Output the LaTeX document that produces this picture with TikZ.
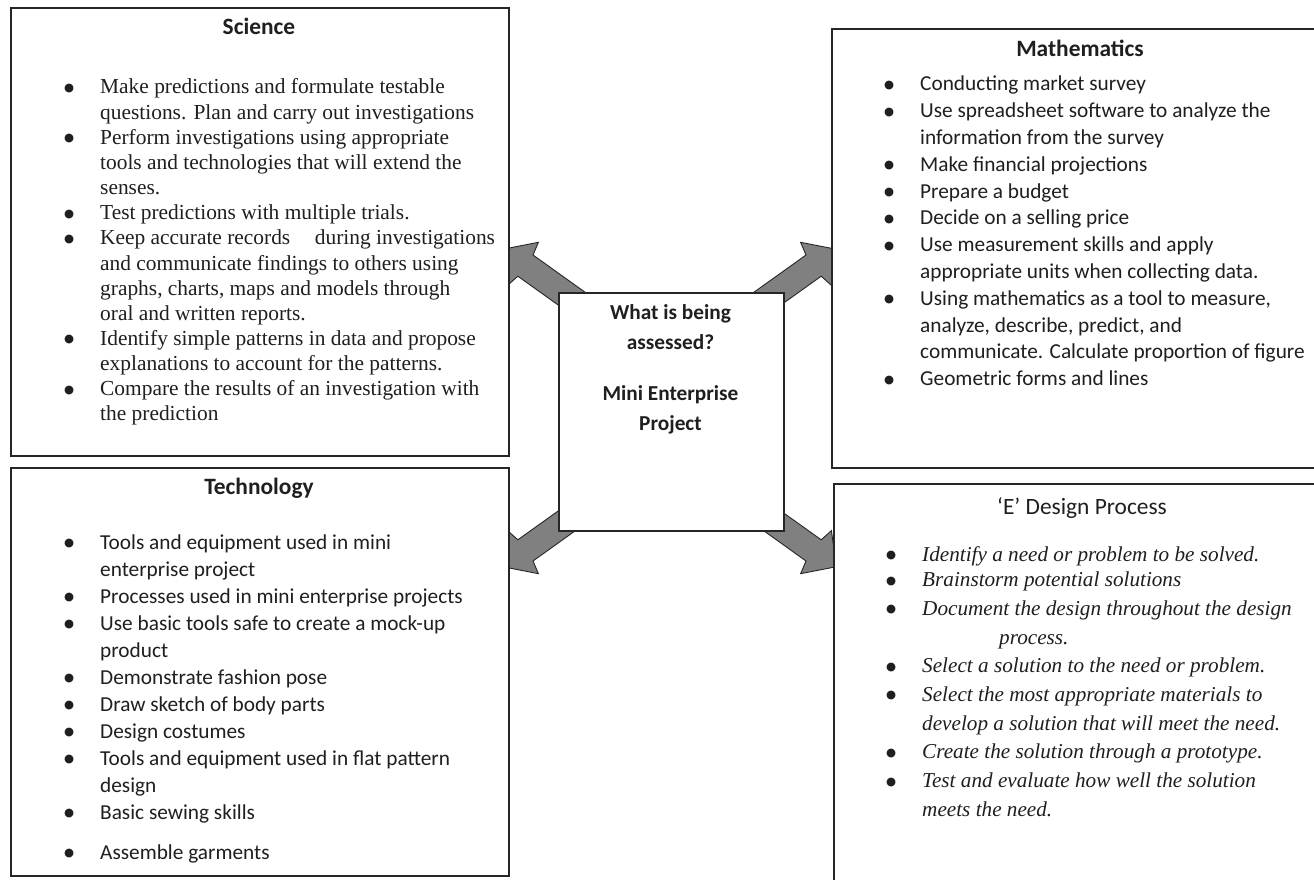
\documentclass[tikz,border=0pt]{standalone}
\usepackage{fontspec}
\setmainfont{Liberation Serif}
\newfontfamily\calib{Carlito}
\newfontfamily\dejavu{DejaVu Sans}
\newcommand\bl{\makebox[36pt][l]{\raisebox{2.6pt}{\dejavu\upshape\mdseries\fontsize{11.5}{11.5}\selectfont ●}}}
\newcommand\nobl{\hspace*{36pt}}
\begin{document}
\begin{tikzpicture}[x=1pt,y=-1pt,
  panel/.style={draw=black!85, line width=1.6pt, fill=white, inner sep=0pt, anchor=north west},
  blockarrow/.style={fill=black!50, draw=black!85, line width=0.9pt, line join=miter},
  heading/.style={anchor=base, inner sep=0pt, text=black!88, font=\calib\bfseries\fontsize{23.4}{28}\selectfont},
  list/.style={anchor=base west, inner sep=0pt, text=black!88},
  serifsize/.style={font=\fontsize{21.4}{25.15}\selectfont},
  sanssize/.style={font=\calib\fontsize{21.3}{#1}\selectfont},
]
\clip (0,0) rectangle (1314,880);
\fill[white] (0,0) rectangle (1314,880);

% block arrows radiating from the central box
\draw[blockarrow] (589.9,295.7) -- (533.0,255.0) -- (538.4,242.3) -- (502.6,249.3) -- (507.6,285.4) -- (517.8,276.2) -- (574.8,316.9) -- cycle;
\draw[blockarrow] (749.1,295.7) -- (806.0,255.0) -- (800.6,242.3) -- (836.4,249.3) -- (831.4,285.4) -- (821.2,276.2) -- (764.2,316.9) -- cycle;
\draw[blockarrow] (589.9,520.3) -- (533.0,561.0) -- (538.4,573.7) -- (502.6,566.7) -- (507.6,530.6) -- (517.8,539.8) -- (574.8,499.1) -- cycle;
\draw[blockarrow] (749.1,520.3) -- (806.0,561.0) -- (800.6,573.7) -- (836.4,566.7) -- (831.4,530.6) -- (821.2,539.8) -- (764.2,499.1) -- cycle;

% panels
\node[panel, minimum width=498pt, minimum height=448pt] (sci) at (10,7) {};
\node[panel, minimum width=498pt, minimum height=408pt] (tech) at (10,467) {};
\node[panel, minimum width=500pt, minimum height=439pt] (math) at (831,28) {};
\node[panel, minimum width=500pt, minimum height=420pt] (edp) at (833,483) {};
\node[panel, minimum width=225pt, minimum height=238pt] (ctr) at (558,292) {};

% headings
\node[heading] (sciTitle) at (259,35) {Science};
\node[heading] (mathTitle) at (1080,57) {Mathematics};
\node[heading] (techTitle) at (259,494) {Technology};
\node[heading, font=\calib\fontsize{23.4}{28}\selectfont] (edpTitle) at (1082,514) {‘E’ Design Process};

% central question
\node[anchor=base, inner sep=0pt, text=black!88, font=\calib\bfseries\fontsize{21.3}{30}\selectfont] (ctrText) at (670.5,319)
  {\begin{tabular}[t]{@{}c@{}}What is being\\assessed?\\[21pt]Mini Enterprise\\Project\end{tabular}};

% science list
\node[list, serifsize] (sciList) at (64,94) {\begin{tabular}[t]{@{}l@{}l@{}}
\bl & Make predictions and formulate testable\\
\nobl & questions. Plan and carry out investigations\\
\bl & Perform investigations using appropriate\\
 & tools and technologies that will extend the\\
 & senses.\\
\bl & Test predictions with multiple trials.\\
\bl & Keep accurate records\hspace{0.9em} during investigations\\
 & and communicate findings to others using\\
 & graphs, charts, maps and models through\\
 & oral and written reports.\\
\bl & Identify simple patterns in data and propose\\
 & explanations to account for the patterns.\\
\bl & Compare the results of an investigation with\\
 & the prediction
\end{tabular}};

% mathematics list
\node[list, sanssize=26.8] (mathList) at (884,91) {\begin{tabular}[t]{@{}l@{}l@{}}
\bl & Conducting market survey\\
\bl & Use spreadsheet software to analyze the\\
\nobl & information from the survey\\
\bl & Make financial projections\\
\bl & Prepare a budget\\
\bl & Decide on a selling price\\
\bl & Use measurement skills and apply\\
 & appropriate units when collecting data.\\
\bl & Using mathematics as a tool to measure,\\
 & analyze, describe, predict, and\\
 & communicate. Calculate proportion of figure\\
\bl & Geometric forms and lines
\end{tabular}};

% technology list
\node[list, sanssize=27] (techList) at (64,549) {\begin{tabular}[t]{@{}l@{}l@{}}
\bl & Tools and equipment used in mini\\
\nobl & enterprise project\\
\bl & Processes used in mini enterprise projects\\
\bl & Use basic tools safe to create a mock-up\\
 & product\\
\bl & Demonstrate fashion pose\\
\bl & Draw sketch of body parts\\
\bl & Design costumes\\
\bl & Tools and equipment used in flat pattern\\
 & design\\
\bl & Basic sewing skills\\[13pt]
\bl & Assemble garments
\end{tabular}};

% design process list
\node[list, font=\itshape\fontsize{21.2}{28.7}\selectfont] (edpList) at (886,561) {\begin{tabular}[t]{@{}l@{}l@{}}
\bl & Identify a need or problem to be solved.\\[-3pt]
\bl & Brainstorm potential solutions\\
\bl & Document the design throughout the design\\
\nobl & \hspace*{77pt}process.\\
\bl & Select a solution to the need or problem.\\
\bl & Select the most appropriate materials to\\
 & develop a solution that will meet the need.\\
\bl & Create the solution through a prototype.\\
\bl & Test and evaluate how well the solution\\
 & meets the need.
\end{tabular}};
\end{tikzpicture}
\end{document}
